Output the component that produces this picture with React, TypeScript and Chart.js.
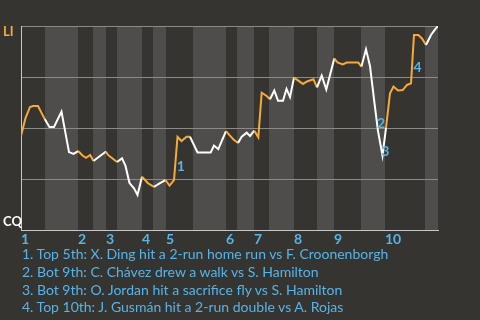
import React, { useEffect, useRef } from 'react';
import { Chart, registerables } from 'chart.js';

Chart.register(...registerables);

// x: game progress (0-100), y: LI win probability (0-1)
const progress = [
  0, 1.08, 2.16, 2.88, 4.08, 4.92, 5.68, 6.83, 7.91, 9.71,
  11.51, 12.59, 13.72, 14.75, 15.59, 16.59, 17.39, 18.94, 20.38, 20.86,
  21.82, 23.02, 24.22, 25.06, 26.02, 27.1, 27.94, 29.02, 30.46, 31.89,
  33.33, 34.65, 35.61, 36.69, 37.53, 38.49, 39.69, 40.53, 42.33, 45.49,
  46.28, 47.31, 49.16, 49.95, 50.96, 52.04, 52.93, 54.12, 54.92, 55.95,
  56.91, 57.72, 58.92, 59.71, 60.74, 61.63, 62.83, 63.67, 64.51, 65.47,
  67.63, 68.59, 70.14, 70.98, 72.11, 73.21, 75.13, 75.9, 77.15, 78.11,
  80.89, 81.65, 82.73, 83.69, 84.65, 85.61, 86.69, 87.53, 88.49, 89.33,
  90.41, 91.53, 92.57, 93.53, 94.24, 95.28, 96.16, 97.12, 98.32, 99.16,
  100,
];
const winProb = [
  0.461, 0.549, 0.603, 0.608, 0.608, 0.574, 0.544, 0.505, 0.505, 0.58,
  0.382, 0.373, 0.387, 0.365, 0.354, 0.368, 0.338, 0.363, 0.384, 0.368,
  0.353, 0.333, 0.351, 0.314, 0.23, 0.204, 0.172, 0.261, 0.229, 0.211,
  0.23, 0.245, 0.218, 0.245, 0.457, 0.436, 0.457, 0.457, 0.38, 0.38,
  0.414, 0.396, 0.485, 0.466, 0.444, 0.426, 0.457, 0.477, 0.461, 0.487,
  0.454, 0.673, 0.657, 0.641, 0.684, 0.634, 0.634, 0.692, 0.652, 0.747,
  0.716, 0.728, 0.739, 0.699, 0.757, 0.689, 0.841, 0.821, 0.812, 0.821,
  0.821, 0.801, 0.886, 0.804, 0.642, 0.485, 0.365, 0.5, 0.67, 0.703,
  0.684, 0.686, 0.711, 0.719, 0.956, 0.956, 0.939, 0.907, 0.956, 0.98,
  1.0,
];

// start of each half inning (top 1, bot 1, top 2, ...)
const halfInningStarts = [
  0, 5.76, 13.67, 17.27, 20.38, 23.02, 29.02, 31.65, 34.77, 41.25,
  49.16, 51.8, 55.88, 59.47, 65.47, 70.98, 75.06, 81.53, 87.29, 96.88,
];
const inningLabels = ['1', '2', '3', '4', '5', '6', '7', '8', '9', '10'];

const teamTop = 'LI';
const teamBottom = 'CQ';

const eventLabels = ['1', '2', '3', '4'];
const eventPoints = [34, 75, 76, 84];
const eventTexts = [
  '1. Top 5th: X. Ding hit a 2-run home run vs F. Croonenborgh',
  '2. Bot 9th: C. Chávez drew a walk vs S. Hamilton',
  '3. Bot 9th: O. Jordan hit a sacrifice fly vs S. Hamilton',
  '4. Top 10th: J. Gusmán hit a 2-run double vs A. Rojas',
];

const BG = '#363430';
const BAND = '#4e4d4b';
const GRID = '#8a8a88';
const AXIS = '#c8c8c8';
const ORANGE = '#F7A93A';
const WHITE = '#ffffff';
const BLUE = '#56B4E9';
const FONT = 'Lato';

const halfIndex = (x: number) => {
  let k = 0;
  for (let i = 0; i < halfInningStarts.length; i++) if (halfInningStarts[i] <= x) k = i;
  return k;
};

export default function App() {
  const ref = useRef<HTMLCanvasElement | null>(null);

  useEffect(() => {
    document.body.style.margin = '0';
    document.body.style.background = BG;
    const canvas = ref.current;
    if (!canvas) return;

    const inningStarts = halfInningStarts.filter((_, i) => i % 2 === 0);

    const bandsPlugin = {
      id: 'bands',
      beforeDraw(chart: any) {
        const { ctx, chartArea, scales } = chart;
        ctx.save();
        ctx.fillStyle = BG;
        ctx.fillRect(0, 0, chart.width, chart.height);
        ctx.fillStyle = BAND;
        for (let i = 1; i < halfInningStarts.length; i += 2) {
          const x0 = scales.x.getPixelForValue(halfInningStarts[i]);
          const x1 = scales.x.getPixelForValue(
            i + 1 < halfInningStarts.length ? halfInningStarts[i + 1] : scales.x.max
          );
          ctx.fillRect(x0, chartArea.top, x1 - x0, chartArea.bottom - chartArea.top);
        }
        ctx.restore();
      },
      afterDraw(chart: any) {
        const { ctx, scales } = chart;
        ctx.save();
        ctx.font = `bold 13px ${FONT}`;
        ctx.textAlign = 'left';
        ctx.textBaseline = 'middle';
        ctx.fillStyle = ORANGE;
        ctx.fillText(teamTop, 3, scales.y.getPixelForValue(1) + 6);
        ctx.fillStyle = WHITE;
        ctx.fillText(teamBottom, 3, scales.y.getPixelForValue(0) - 8);
        ctx.restore();
      },
      afterDatasetsDraw(chart: any) {
        const { ctx } = chart;
        const meta = chart.getDatasetMeta(0);
        ctx.save();
        ctx.font = `bold 14px ${FONT}`;
        ctx.textAlign = 'center';
        ctx.textBaseline = 'middle';
        ctx.fillStyle = BLUE;
        eventLabels.forEach((lab, k) => {
          const p1 = meta.data[eventPoints[k]];
          const p0 = meta.data[eventPoints[k] - 1];
          const mx = (p0.x + p1.x) / 2;
          const my = (p0.y + p1.y) / 2;
          ctx.fillText(lab, mx + 5, my + 8);
        });
        ctx.restore();
      },
    };

    const chart = new Chart(canvas, {
      type: 'line',
      data: {
        datasets: [
          {
            data: progress.map((x, i) => ({ x, y: winProb[i] })),
            borderWidth: 2,
            pointRadius: 0,
            tension: 0,
            fill: false,
            segment: {
              borderColor: (c: any) => {
                const mid = (c.p0.parsed.x + c.p1.parsed.x) / 2;
                return halfIndex(mid) % 2 === 0 ? ORANGE : WHITE;
              },
            },
          },
        ],
      },
      options: {
        responsive: false,
        animation: false,
        devicePixelRatio: 1,
        layout: { padding: { left: 21, top: 26, right: 42, bottom: 0 } },
        plugins: { legend: { display: false }, tooltip: { enabled: false }, title: { display: false } },
        scales: {
          x: {
            type: 'linear',
            min: 0,
            max: 100,
            grid: { display: false, drawTicks: false },
            border: { display: true, color: AXIS, width: 1 },
            afterBuildTicks: (s: any) => {
              s.ticks = inningStarts.map((v) => ({ value: v }));
            },
            afterFit: (s: any) => {
              s.height = 90;
            },
            ticks: {
              autoSkip: false,
              maxRotation: 0,
              align: 'start',
              padding: 1,
              color: BLUE,
              font: { family: FONT, size: 14, weight: 'bold' },
              callback: (_v: any, i: number) => inningLabels[i],
            },
          },
          y: {
            type: 'linear',
            min: 0,
            max: 1,
            afterBuildTicks: (s: any) => {
              s.ticks = [0, 0.25, 0.5, 0.75, 1].map((v) => ({ value: v }));
            },
            afterFit: (s: any) => {
              s.width = 0;
            },
            ticks: { display: false },
            grid: {
              drawTicks: false,
              color: (c: any) => (c.tick && c.tick.value === 0 ? 'rgba(0,0,0,0)' : GRID),
            },
            border: { display: true, color: AXIS, width: 1 },
          },
        },
      },
      plugins: [bandsPlugin],
    });
    return () => chart.destroy();
  }, []);

  return (
    <div style={{ position: 'fixed', left: 0, top: 0, width: 480, height: 320, background: BG, overflow: 'hidden' }}>
      <canvas ref={ref} width={480} height={320} style={{ display: 'block', width: 480, height: 320 }} />
      <div
        style={{
          position: 'absolute',
          left: 22,
          top: 245,
          fontFamily: FONT,
          fontSize: 14,
          lineHeight: '17.8px',
          color: BLUE,
          whiteSpace: 'nowrap',
        }}
      >
        {eventTexts.map((t, i) => (
          <div key={i}>{t}</div>
        ))}
      </div>
    </div>
  );
}
